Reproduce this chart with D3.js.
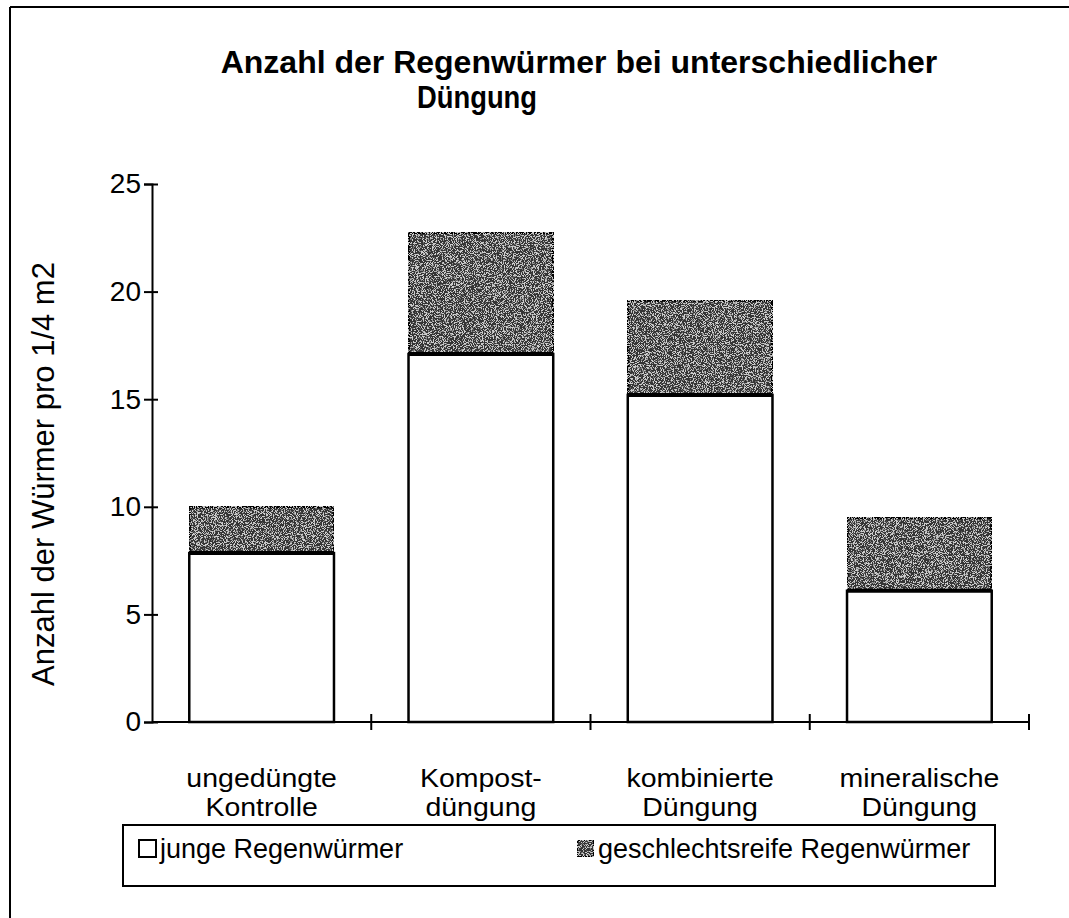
<!DOCTYPE html>
<html>
<head>
<meta charset="utf-8">
<script src="https://cdn.jsdelivr.net/npm/d3@7"></script>
<style>
	body { margin: 0; background: #fff; }
	svg { display: block; font-family: "Liberation Sans", Arial, sans-serif; }
</style>
</head>
<body>
<svg width="1069" height="918"></svg>
<script>
const categories = ['ungedüngte Kontrolle', 'Kompost-düngung', 'kombinierte Düngung', 'mineralische Düngung'];
const categoryLines = [['ungedüngte', 'Kontrolle'], ['Kompost-', 'düngung'], ['kombinierte', 'Düngung'], ['mineralische', 'Düngung']];
const junge = [7.85, 17.1, 15.2, 6.1];
const reife = [2.15, 5.65, 4.4, 3.4];
const seriesNames = ['junge Regenwürmer', 'geschlechtsreife Regenwürmer'];
const yTicks = [0, 5, 10, 15, 20, 25];

const svg = d3.select('svg');

// grainy dark fill like the scanned original
const defs = svg.append('defs');
const filter = defs.append('filter').attr('id', 'grain')
	.attr('x', 0).attr('y', 0).attr('width', 1).attr('height', 1);
filter.append('feTurbulence').attr('type', 'fractalNoise').attr('baseFrequency', 1.1)
	.attr('numOctaves', 2).attr('seed', 7).attr('result', 'noise');
filter.append('feColorMatrix').attr('in', 'noise').attr('type', 'matrix')
	.attr('values', '0 0 0 0 0.62  0 0 0 0 0.62  0 0 0 0 0.62  0 0 0 9 -4.5').attr('result', 'dots');
filter.append('feComposite').attr('in', 'dots').attr('in2', 'SourceGraphic').attr('operator', 'in').attr('result', 'dotsIn');
filter.append('feMerge').call(m => {
	m.append('feMergeNode').attr('in', 'SourceGraphic');
	m.append('feMergeNode').attr('in', 'dotsIn');
});

// page frame (cut off on the right and bottom)
svg.append('line').attr('x1', 10).attr('y1', 7).attr('x2', 10).attr('y2', 918).attr('stroke', '#000').attr('stroke-width', 2);
svg.append('line').attr('x1', 10).attr('y1', 7).attr('x2', 1069).attr('y2', 7).attr('stroke', '#000').attr('stroke-width', 2);

const x = d3.scaleBand().domain(categories).range([152, 1029]).paddingInner(0.34).paddingOuter(0.17);
const y = d3.scaleLinear().domain([0, 25]).range([722, 184]);

// title
svg.append('text').attr('x', 579).attr('y', 73).attr('text-anchor', 'middle')
	.attr('font-size', 32).attr('font-weight', 'bold')
	.text('Anzahl der Regenwürmer bei unterschiedlicher');
svg.append('text').attr('x', 417).attr('y', 108)
	.attr('font-size', 32).attr('font-weight', 'bold')
	.attr('textLength', 120).attr('lengthAdjust', 'spacingAndGlyphs')
	.text('Düngung');

// bars
const stacked = categories.map((c, i) => ({cat: c, j: junge[i], r: reife[i]}));
const bars = svg.append('g');
bars.selectAll('rect.reif').data(stacked).enter().append('rect')
	.attr('class', 'reif')
	.attr('x', d => x(d.cat)).attr('width', x.bandwidth())
	.attr('y', d => y(d.j + d.r)).attr('height', d => y(d.j) - y(d.j + d.r))
	.attr('fill', '#363636').attr('filter', 'url(#grain)')
	.attr('stroke', '#000').attr('stroke-width', 3);
bars.selectAll('rect.jung').data(stacked).enter().append('rect')
	.attr('class', 'jung')
	.attr('x', d => x(d.cat)).attr('width', x.bandwidth())
	.attr('y', d => y(d.j)).attr('height', d => y(0) - y(d.j))
	.attr('fill', '#fff')
	.attr('stroke', '#000').attr('stroke-width', 2.5);
bars.selectAll('line.sep').data(stacked).enter().append('line')
	.attr('x1', d => x(d.cat)).attr('x2', d => x(d.cat) + x.bandwidth())
	.attr('y1', d => y(d.j)).attr('y2', d => y(d.j))
	.attr('stroke', '#000').attr('stroke-width', 4);

// y axis
const yAxis = svg.append('g').attr('transform', 'translate(152,0)')
	.call(d3.axisLeft(y).tickValues(yTicks).tickSize(8).tickPadding(3));
yAxis.select('.domain').attr('stroke-width', 2);
yAxis.selectAll('.tick line').attr('x2', -8).attr('x1', 6).attr('stroke-width', 2);
yAxis.selectAll('.tick text').attr('font-size', 28).attr('fill', '#000')
	.attr('font-family', '"Liberation Sans", Arial, sans-serif');

// x axis
const xEdges = categories.slice(1).map(c => x(c) - x.step() * x.paddingInner() / 2).concat([1029]);
svg.append('line').attr('x1', 152).attr('x2', 1029).attr('y1', y(0)).attr('y2', y(0))
	.attr('stroke', '#000').attr('stroke-width', 2);
svg.append('g').selectAll('line').data(xEdges).enter().append('line')
	.attr('x1', d => d).attr('x2', d => d).attr('y1', y(0) - 8).attr('y2', y(0) + 8)
	.attr('stroke', '#000').attr('stroke-width', 2);

// category labels, two lines each, slightly widened like the original font
const catG = svg.append('g').selectAll('g').data(categories).enter().append('g')
	.attr('transform', d => `translate(${x(d) + x.bandwidth() / 2},0) scale(1.14,1)`);
catG.selectAll('text').data((d, i) => categoryLines[i]).enter().append('text')
	.attr('text-anchor', 'middle').attr('font-size', 25)
	.attr('x', 0).attr('y', (d, i) => 787 + i * 29)
	.text(d => d);

// y axis title
svg.append('text').attr('transform', 'translate(54,474) rotate(-90)')
	.attr('text-anchor', 'middle').attr('font-size', 31)
	.text('Anzahl der Würmer pro 1/4 m2');

// legend
const legend = svg.append('g');
legend.append('rect').attr('x', 123).attr('y', 825).attr('width', 872).attr('height', 61)
	.attr('fill', '#fff').attr('stroke', '#000').attr('stroke-width', 2);
const legX = [139, 577];
legend.selectAll('rect.key').data(seriesNames).enter().append('rect')
	.attr('class', 'key')
	.attr('x', (d, i) => legX[i]).attr('y', 840).attr('width', 17).attr('height', 17)
	.attr('fill', (d, i) => i === 0 ? '#fff' : '#363636')
	.attr('filter', (d, i) => i === 0 ? null : 'url(#grain)')
	.attr('stroke', '#000').attr('stroke-width', 2);
legend.selectAll('text.lab').data(seriesNames).enter().append('text')
	.attr('class', 'lab')
	.attr('x', (d, i) => legX[i] + 21).attr('y', 858).attr('font-size', 27)
	.text(d => d);
</script>
</body>
</html>
